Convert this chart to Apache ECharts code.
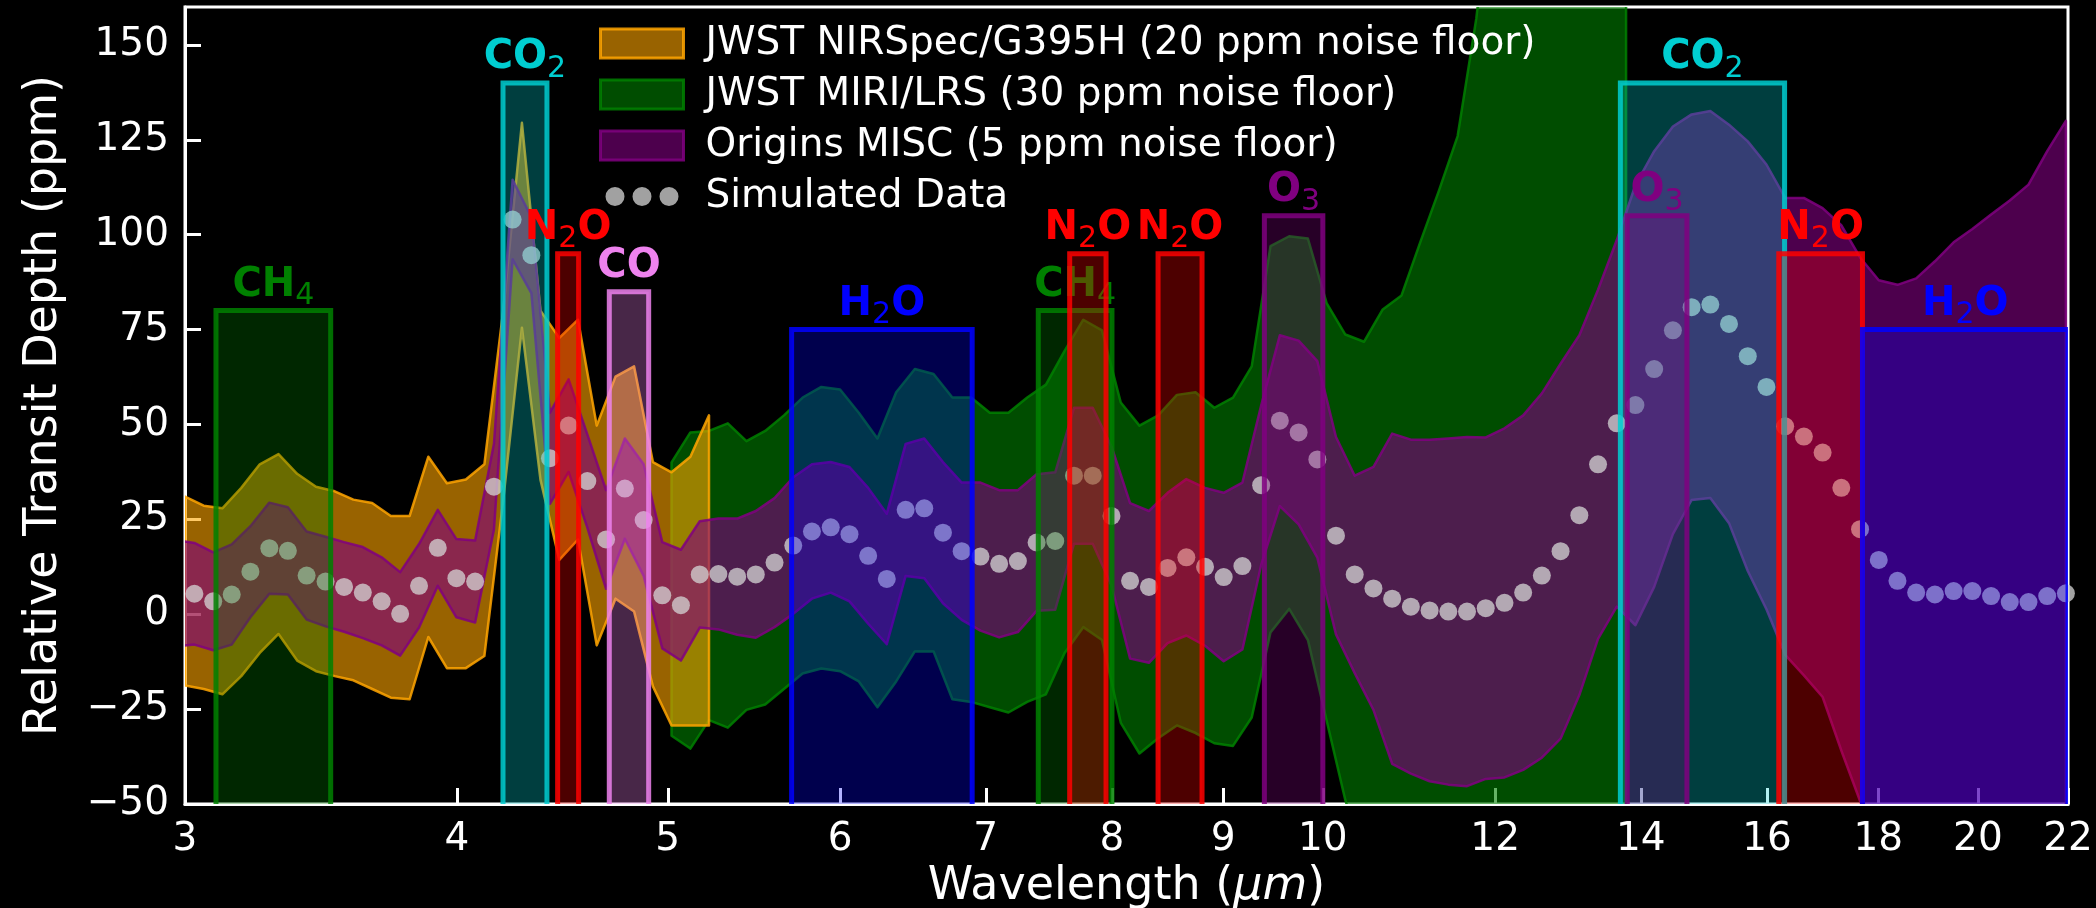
<!DOCTYPE html>
<html><head><meta charset="utf-8">
<script src="https://cdn.jsdelivr.net/npm/echarts@6/dist/echarts.min.js"></script>
<style>html,body{margin:0;padding:0;background:#000;}#c{width:2096px;height:908px;}</style>
</head><body><div id="c"></div>
<script>
// ---------------- data ----------------
const xTickValues = [3, 4, 5, 6, 7, 8, 9, 10, 12, 14, 16, 18, 20, 22];
const yTickValues = [-50, -25, 0, 25, 50, 75, 100, 125, 150];

// simulated data points (wavelength in micron, relative transit depth in ppm)
const dotWavelength = [3.030,3.091,3.152,3.215,3.280,3.345,3.412,3.481,3.550,3.621,
  3.694,3.767,3.843,3.920,3.998,4.078,4.160,4.243,4.328,4.414,
  4.502,4.592,4.684,4.778,4.874,4.971,5.070,5.172,5.275,5.381,
  5.488,5.598,5.710,5.824,5.941,6.060,6.181,6.304,6.431,6.559,
  6.690,6.824,6.961,7.100,7.242,7.387,7.534,7.685,7.839,7.996,
  8.155,8.319,8.485,8.655,8.828,9.004,9.184,9.368,9.555,9.747,
  9.942,10.140,10.343,10.550,10.761,10.976,11.196,11.420,11.648,11.881,
  12.119,12.361,12.608,12.860,13.118,13.380,13.648,13.920,14.199,14.483,
  14.773,15.068,15.369,15.677,15.990,16.310,16.636,16.969,17.308,17.655,
  18.008,18.368,18.735,19.110,19.492,19.882,20.280,20.685,21.099,21.521,21.951];
const dotDepth = [5.4,3.4,5.2,11.2,17.4,16.7,10.2,8.6,7.2,5.7,
  3.4,0.1,7.5,17.5,9.5,8.6,33.6,104,94.6,41.1,
  49.7,35.1,19.7,33.1,24.8,5.0,2.4,10.5,10.6,9.9,
  10.5,13.6,18.1,21.8,22.9,21.1,15.4,9.3,27.5,27.9,
  21.5,16.6,15.2,13.3,14.0,18.9,19.3,36.5,36.5,25.9,
  8.8,7.2,12.2,15.0,12.5,9.8,12.7,34.0,51.0,47.9,
  40.8,20.7,10.5,6.8,4.1,2.0,1.0,0.7,0.7,1.6,
  3.0,5.7,10.2,16.6,26.1,39.5,50.3,55.1,64.6,74.8,
  80.9,81.6,76.5,68.0,59.9,49.5,46.8,42.6,33.3,22.4,
  14.3,8.8,5.7,5.2,6.1,6.1,4.8,3.2,3.2,4.8,5.5];

// Origins MISC 1-sigma half width at each simulated point (ppm)
const miscError = [13.4,12.9,13.2,12,12,11.5,11.6,11.8,11.8,12,
  11.6,11,11,10,10.3,10.8,11.3,10.5,10,12,
  12.2,12.3,13,13.2,14.7,14,14.6,14,14.6,15.3,
  16.7,17,18,17.7,17.2,17.7,17.9,17.2,17.4,18.4,
  18.6,18.1,19.5,19.4,18.7,18,18.1,17.9,17.9,18.3,
  20.5,20,19.8,20.6,20.8,22.2,22,21,22.5,24.2,
  25.9,26,26,32,43.5,44,45,45.6,46,45,
  46,46.7,48,49.4,47.4,46,48.3,58,57.4,53.7,
  50.8,51,52.5,56.6,58.6,60.2,62.9,64.4,69.2,71.6,
  73.7,78,82.8,87.8,91.9,95.4,100.5,105.8,110,117.2,124.5];
const miscEdgeWavelength = 2.97;
const miscEdgeLow = -8.5;
const miscEdgeHigh = 19.5;

// JWST NIRSpec/G395H envelope
const nirWavelength = [3.000,3.060,3.121,3.184,3.247,3.312,3.378,3.446,3.515,3.585,
  3.657,3.730,3.805,3.881,3.958,4.038,4.118,4.201,4.285,4.370,
  4.458,4.547,4.638,4.731,4.825,4.922,5.020,5.121,5.223];
const nirHigh = [31.0,28.6,27.9,33.3,39.5,42.2,37.0,33.6,32.4,30.2,
  29.3,25.9,25.9,41.5,34.5,35.5,39.5,80,129.5,80,
  72.8,77.6,49.7,62.6,65.3,40.1,37.4,41.5,52.4];
const nirLow = [-18.8,-19.7,-21.1,-16.3,-10.2,-5.2,-12.2,-15.0,-16.3,-17.4,
  -19.7,-22.0,-22.4,-6.0,-14.2,-14.2,-11.0,30,75.5,35.4,
  14.3,19.7,-8.2,4.1,0.7,-19,-29.3,-29.3,-29.3];

// JWST MIRI/LRS envelope
const miriWavelength = [5.020,5.121,5.223,5.328,5.434,5.543,5.654,5.767,5.882,6.000,
  6.120,6.242,6.367,6.494,6.624,6.757,6.892,7.030,7.170,7.314,
  7.460,7.609,7.761,7.916,8.075,8.236,8.401,8.569,8.740,8.915,
  9.093,9.275,9.461,9.650,9.843,10.040,10.241,10.446,10.654,10.868,
  11.085,11.307,11.533,11.763,11.999,12.239,12.483,12.733,12.988,13.247,
  13.512,13.783];
const miriHigh = [40,47.9,48.3,50.3,45.6,48.3,52.4,57.1,59.9,59.2,
  53.1,46.3,58.5,64.6,63.3,57.1,57.1,53.1,53.1,57.1,
  60.5,69.4,77.6,74.8,55.8,49.7,52.4,57.8,58.5,54.4,
  57.1,65.3,97,99.6,99,82,73.7,71.8,80.3,84,
  98,111.6,126,157,200,230,260,290,320,350,
  380,410];
const miriLow = [-32,-35.4,-27.9,-29.9,-25.2,-23.8,-19.7,-15.6,-14.3,-15.0,
  -17.7,-24.5,-17.7,-9.8,-9.8,-22.4,-23.1,-24.5,-25.9,-23.1,
  -21.1,-10.2,-3.4,-6.8,-28.6,-36.7,-32.7,-29.3,-31.3,-34.0,
  -34.7,-27.2,-4.8,1.4,-6.8,-28,-49,-65,-80,-95,
  -110,-120,-130,-140,-150,-160,-165,-170,-175,-180,
  -185,-190];

// molecular feature windows
const featureMolecule = ['CH4','CO2','N2O','CO','H2O','CH4','N2O','N2O','O3','CO2','O3','N2O','H2O'];
const featureStart = [3.1, 4.2, 4.45, 4.7, 5.7, 7.4, 7.65, 8.4, 9.4, 13.7, 13.8, 16.2, 17.7];
const featureEnd   = [3.5, 4.4, 4.55, 4.9, 6.9, 8.0, 7.95, 8.8, 10.0, 16.3, 14.7, 17.7, 22];
const featureTop   = [80, 140, 95, 85, 75, 80, 95, 95, 105, 140, 105, 95, 75];

const seriesNames = ['JWST NIRSpec/G395H (20 ppm noise floor)', 'JWST MIRI/LRS (30 ppm noise floor)',
  'Origins MISC (5 ppm noise floor)', 'Simulated Data'];

// ---------------- styles ----------------
const FONT = 'DejaVu Sans';
const moleculeRGB = { CH4: [0,128,0], CO2: [0,206,209], N2O: [255,0,0], CO: [238,130,238], H2O: [0,0,255], O3: [128,0,128] };
const moleculeText = { CH4: '{m|CH}{s|4}', CO2: '{m|CO}{s|2}', N2O: '{m|N}{s|2}{m|O}', CO: '{m|CO}', H2O: '{m|H}{s|2}{m|O}', O3: '{m|O}{s|3}' };
const rgba = (c, a) => 'rgba(' + c[0] + ',' + c[1] + ',' + c[2] + ',' + a + ')';

// derived band tables
const miscWavelength = [miscEdgeWavelength].concat(dotWavelength);
const miscLow = [miscEdgeLow].concat(dotDepth.map((d, i) => d - miscError[i]));
const miscHigh = [miscEdgeHigh].concat(dotDepth.map((d, i) => d + miscError[i]));

function bandSeries(name, xs, lo, hi, fill, stroke, z) {
  return {
    name: name, type: 'custom', coordinateSystem: 'cartesian2d', clip: true, silent: true, z: z,
    data: xs.map((x, k) => [x, lo[k], hi[k]]),
    encode: { x: 0, y: [1, 2] },
    itemStyle: { color: fill },
    renderItem: function (params, api) {
      if (params.dataIndex !== 0) return null;
      const pts = [];
      for (let k = 0; k < xs.length; k++) pts.push(api.coord([xs[k], hi[k]]));
      for (let k = xs.length - 1; k >= 0; k--) pts.push(api.coord([xs[k], lo[k]]));
      return { type: 'polygon', shape: { points: pts }, style: { fill: fill, stroke: stroke, lineWidth: 2.5, lineJoin: 'round' } };
    }
  };
}

const featureData = featureMolecule.map((m, i) => [featureStart[i], featureEnd[i], featureTop[i], i]);

const dotsIcon = 'path://M0,0L0.01,0L0,0.01Z M83,29L82.99,29L83,28.99Z ' +
  'M5,14.5a9.5,9.5 0 1,0 19,0a9.5,9.5 0 1,0 -19,0Z M32,14.5a9.5,9.5 0 1,0 19,0a9.5,9.5 0 1,0 -19,0Z M59,14.5a9.5,9.5 0 1,0 19,0a9.5,9.5 0 1,0 -19,0Z';

const option = {
  backgroundColor: '#000',
  animation: false,
  textStyle: { fontFamily: FONT },
  grid: { left: 185, right: 28, top: 7, bottom: 104, show: true, borderColor: '#fff', borderWidth: 3, outerBoundsMode: 'none' },
  legend: {
    orient: 'vertical', left: 594, top: 19, itemWidth: 83, itemHeight: 29, itemGap: 12,
    selectedMode: false,
    textStyle: { color: '#fff', fontSize: 39, fontFamily: FONT, padding: [0, 0, 0, 17] },
    data: [
      { name: seriesNames[0], icon: 'rect', itemStyle: { color: 'rgba(255,165,0,0.6)', borderColor: 'rgba(255,165,0,0.85)', borderWidth: 3 } },
      { name: seriesNames[1], icon: 'rect', itemStyle: { color: 'rgba(0,128,0,0.6)', borderColor: 'rgba(0,128,0,0.85)', borderWidth: 3 } },
      { name: seriesNames[2], icon: 'rect', itemStyle: { color: 'rgba(128,0,128,0.6)', borderColor: 'rgba(128,0,128,0.85)', borderWidth: 3 } },
      { name: seriesNames[3], icon: dotsIcon, itemStyle: { color: 'rgba(211,211,211,0.95)', borderWidth: 0 } }
    ]
  },
  xAxis: {
    type: 'log', logBase: 10, min: 3, max: 22,
    name: 'Wavelength ({i|μm})', nameLocation: 'middle', nameGap: 52,
    nameTextStyle: { color: '#fff', fontSize: 46, fontFamily: FONT, rich: { i: { fontStyle: 'italic', fontSize: 46, color: '#fff', fontFamily: FONT } } },
    axisLine: { show: true, onZero: false, lineStyle: { color: '#fff', width: 3 } },
    axisTick: { show: true, inside: true, length: 16, lineStyle: { color: '#fff', width: 3 }, customValues: xTickValues },
    axisLabel: { color: '#fff', fontSize: 39, fontFamily: FONT, margin: 16, customValues: xTickValues, formatter: v => String(Math.round(v)) },
    splitLine: { show: false }, minorTick: { show: false }
  },
  yAxis: {
    type: 'value', min: -50, max: 160, interval: 25,
    name: 'Relative Transit Depth (ppm)', nameLocation: 'middle', nameGap: 118,
    nameTextStyle: { color: '#fff', fontSize: 46, fontFamily: FONT },
    axisLine: { show: true, onZero: false, lineStyle: { color: '#fff', width: 3 } },
    axisTick: { show: true, inside: true, length: 16, lineStyle: { color: '#fff', width: 3 }, customValues: yTickValues },
    axisLabel: { color: '#fff', fontSize: 39, fontFamily: FONT, margin: 16, customValues: yTickValues, formatter: v => (v < 0 ? '\u2212' + Math.abs(v) : String(v)) },
    splitLine: { show: false }
  },
  series: [
    bandSeries(seriesNames[1], miriWavelength, miriLow, miriHigh, 'rgba(0,128,0,0.6)', 'rgba(0,128,0,0.85)', 1),
    bandSeries(seriesNames[0], nirWavelength, nirLow, nirHigh, 'rgba(255,165,0,0.6)', 'rgba(255,165,0,0.85)', 1),
    bandSeries(seriesNames[2], miscWavelength, miscLow, miscHigh, 'rgba(128,0,128,0.6)', 'rgba(128,0,128,0.85)', 1),
    {
      name: seriesNames[3], type: 'scatter', z: 2, silent: true,
      data: dotWavelength.map((w, i) => [w, dotDepth[i]]),
      symbol: 'circle', symbolSize: 18,
      itemStyle: { color: 'rgba(211,211,211,0.95)' }
    },
    {
      name: 'features', type: 'custom', coordinateSystem: 'cartesian2d', clip: true, silent: true, z: 3,
      data: featureData, encode: { x: [0, 1], y: 2 },
      renderItem: function (params, api) {
        const i = api.value(3);
        const mol = featureMolecule[i];
        const c = moleculeRGB[mol];
        const p0 = api.coord([api.value(0), -60]);
        const p1 = api.coord([api.value(1), api.value(2)]);
        return {
          type: 'group',
          children: [
            { type: 'rect', z2: 2 * i, shape: { x: p0[0], y: p1[1], width: p1[0] - p0[0], height: p0[1] - p1[1] },
              style: { fill: rgba(c, 0.3), stroke: rgba(c, 0.85), lineWidth: 5 } },
            { type: 'text', z2: 2 * i + 1, x: (p0[0] + p1[0]) / 2, y: p1[1] - 45,
              style: { text: moleculeText[mol], align: 'center', verticalAlign: 'top', fill: rgba(c, 1),
                rich: {
                  m: { fontFamily: FONT, fontWeight: 'bold', fontSize: 40, verticalAlign: 'top', fill: rgba(c, 1) },
                  s: { fontFamily: FONT, fontWeight: 'normal', fontSize: 30, verticalAlign: 'top', padding: [16, 0, 0, 0], fill: rgba(c, 1) }
                } } }
          ]
        };
      }
    }
  ]
};

const chart = echarts.init(document.getElementById('c'), null, { renderer: 'canvas' });
chart.setOption(option);
</script>
</body></html>
